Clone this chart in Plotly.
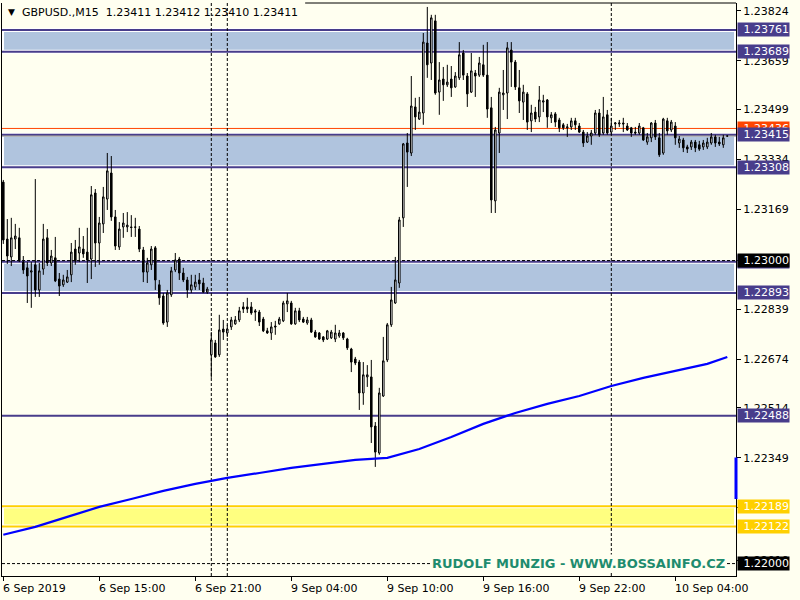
import plotly.graph_objects as go

# ---------------- data ----------------
opens = [
    1.23259, 1.23071, 1.23012, 1.23071, 1.23075, 1.22995, 1.22976, 1.22962, 1.22986, 1.22903,
    1.22972, 1.23075, 1.22992, 1.23009, 1.22939, 1.22920, 1.22929, 1.22953, 1.23038, 1.23025,
    1.23038, 1.23028, 1.23005, 1.23223, 1.23058, 1.23121, 1.23203, 1.23289, 1.23144, 1.23045,
    1.23111, 1.23111, 1.23111, 1.23111, 1.23104, 1.23035, 1.22962, 1.22986, 1.23042, 1.22920,
    1.22883, 1.22797, 1.22887, 1.22969, 1.23005, 1.22959, 1.22936, 1.22903, 1.22913, 1.22936,
    1.22926, 1.22896, 1.22689, 1.22728, 1.22689, 1.22774, 1.22761, 1.22781, 1.22791, 1.22804,
    1.22847, 1.22847, 1.22847, 1.22834, 1.22830, 1.22807, 1.22768, 1.22761, 1.22784, 1.22791,
    1.22801, 1.22857, 1.22860, 1.22791, 1.22834, 1.22807, 1.22794, 1.22804, 1.22764, 1.22761,
    1.22748, 1.22741, 1.22745, 1.22741, 1.22751, 1.22761, 1.22741, 1.22708, 1.22675, 1.22665,
    1.22563, 1.22616, 1.22616, 1.22454, 1.22365, 1.22553, 1.22672, 1.22788, 1.22860, 1.22926,
    1.23141, 1.23388, 1.23355, 1.23507, 1.23467, 1.23487, 1.23718, 1.23652, 1.23791, 1.23556,
    1.23599, 1.23580, 1.23599, 1.23573, 1.23603, 1.23685, 1.23609, 1.23556, 1.23619, 1.23612,
    1.23646, 1.23612, 1.23504, 1.23197, 1.23421, 1.23547, 1.23553, 1.23695, 1.23655, 1.23570,
    1.23523, 1.23550, 1.23461, 1.23490, 1.23474, 1.23523, 1.23530, 1.23471, 1.23484, 1.23464,
    1.23448, 1.23438, 1.23441, 1.23461, 1.23444, 1.23424, 1.23391, 1.23411, 1.23421, 1.23487,
    1.23421, 1.23481, 1.23424, 1.23451, 1.23451, 1.23454, 1.23444, 1.23438, 1.23424, 1.23421,
    1.23438, 1.23391, 1.23405, 1.23454, 1.23405, 1.23355, 1.23461, 1.23431, 1.23444, 1.23388,
    1.23398, 1.23375, 1.23375, 1.23391, 1.23382, 1.23375, 1.23375, 1.23388, 1.23408, 1.23391,
    1.23382, 1.23411,
]
highs = [
    1.23266, 1.23137, 1.23141, 1.23121, 1.23108, 1.23015, 1.22995, 1.22995, 1.23269, 1.22992,
    1.23121, 1.23104, 1.23035, 1.23078, 1.22959, 1.22953, 1.22969, 1.23058, 1.23068, 1.23108,
    1.23081, 1.23108, 1.23246, 1.23236, 1.23144, 1.23243, 1.23355, 1.23345, 1.23167, 1.23127,
    1.23157, 1.23160, 1.23150, 1.23141, 1.23114, 1.23045, 1.23009, 1.23048, 1.23048, 1.22936,
    1.22893, 1.22903, 1.22979, 1.23025, 1.23012, 1.22976, 1.22946, 1.22953, 1.22953, 1.22959,
    1.22943, 1.22913, 1.22764, 1.22738, 1.22821, 1.22804, 1.22788, 1.22814, 1.22817, 1.22847,
    1.22863, 1.22877, 1.22863, 1.22840, 1.22837, 1.22814, 1.22778, 1.22797, 1.22801, 1.22814,
    1.22867, 1.22893, 1.22867, 1.22844, 1.22844, 1.22814, 1.22814, 1.22811, 1.22771, 1.22764,
    1.22751, 1.22771, 1.22771, 1.22788, 1.22771, 1.22764, 1.22745, 1.22712, 1.22682, 1.22672,
    1.22665, 1.22655, 1.22672, 1.22467, 1.22580, 1.22748, 1.22794, 1.22913, 1.23012, 1.23144,
    1.23388, 1.23421, 1.23609, 1.23537, 1.23540, 1.23751, 1.23837, 1.23811, 1.23811, 1.23655,
    1.23639, 1.23646, 1.23642, 1.23622, 1.23721, 1.23695, 1.23619, 1.23685, 1.23629, 1.23672,
    1.23712, 1.23721, 1.23540, 1.23441, 1.23570, 1.23629, 1.23721, 1.23721, 1.23662, 1.23629,
    1.23580, 1.23556, 1.23514, 1.23507, 1.23576, 1.23547, 1.23533, 1.23490, 1.23490, 1.23471,
    1.23454, 1.23451, 1.23471, 1.23471, 1.23454, 1.23431, 1.23424, 1.23431, 1.23497, 1.23500,
    1.23540, 1.23497, 1.23471, 1.23457, 1.23464, 1.23471, 1.23454, 1.23441, 1.23441, 1.23454,
    1.23441, 1.23421, 1.23457, 1.23464, 1.23421, 1.23471, 1.23471, 1.23464, 1.23457, 1.23411,
    1.23405, 1.23382, 1.23398, 1.23398, 1.23395, 1.23398, 1.23405, 1.23421, 1.23415, 1.23408,
    1.23415, 1.23412,
]
lows = [
    1.23055, 1.22989, 1.22982, 1.23038, 1.22995, 1.22956, 1.22860, 1.22844, 1.22880, 1.22880,
    1.22953, 1.22982, 1.22982, 1.22929, 1.22883, 1.22913, 1.22926, 1.22929, 1.22986, 1.22995,
    1.23009, 1.22926, 1.22939, 1.22979, 1.22986, 1.23091, 1.23167, 1.23131, 1.23035, 1.23035,
    1.23075, 1.23094, 1.23078, 1.23078, 1.23028, 1.22929, 1.22926, 1.22969, 1.22903, 1.22854,
    1.22788, 1.22781, 1.22880, 1.22962, 1.22936, 1.22929, 1.22877, 1.22893, 1.22903, 1.22903,
    1.22893, 1.22890, 1.22613, 1.22679, 1.22682, 1.22738, 1.22748, 1.22771, 1.22788, 1.22797,
    1.22827, 1.22827, 1.22821, 1.22801, 1.22784, 1.22764, 1.22758, 1.22738, 1.22755, 1.22788,
    1.22797, 1.22830, 1.22788, 1.22788, 1.22797, 1.22794, 1.22788, 1.22761, 1.22745, 1.22738,
    1.22731, 1.22738, 1.22741, 1.22731, 1.22745, 1.22738, 1.22705, 1.22632, 1.22655, 1.22507,
    1.22524, 1.22583, 1.22398, 1.22319, 1.22359, 1.22550, 1.22665, 1.22781, 1.22857, 1.22910,
    1.23111, 1.23243, 1.23345, 1.23431, 1.23464, 1.23448, 1.23603, 1.23596, 1.23547, 1.23481,
    1.23527, 1.23573, 1.23540, 1.23570, 1.23596, 1.23596, 1.23507, 1.23553, 1.23540, 1.23606,
    1.23606, 1.23471, 1.23157, 1.23157, 1.23355, 1.23497, 1.23467, 1.23573, 1.23563, 1.23487,
    1.23464, 1.23431, 1.23424, 1.23457, 1.23457, 1.23490, 1.23438, 1.23454, 1.23441, 1.23424,
    1.23431, 1.23408, 1.23431, 1.23431, 1.23421, 1.23375, 1.23388, 1.23382, 1.23415, 1.23408,
    1.23415, 1.23415, 1.23415, 1.23431, 1.23441, 1.23424, 1.23428, 1.23408, 1.23415, 1.23415,
    1.23395, 1.23382, 1.23391, 1.23398, 1.23342, 1.23349, 1.23415, 1.23424, 1.23382, 1.23372,
    1.23358, 1.23355, 1.23365, 1.23358, 1.23362, 1.23365, 1.23368, 1.23382, 1.23375, 1.23378,
    1.23372, 1.23410,
]
closes = [
    1.23068, 1.23015, 1.23075, 1.23081, 1.22999, 1.22969, 1.22949, 1.22966, 1.22903, 1.22966,
    1.23071, 1.22992, 1.23015, 1.22933, 1.22916, 1.22936, 1.22946, 1.23028, 1.22999, 1.23045,
    1.23022, 1.23002, 1.23217, 1.23058, 1.23124, 1.23210, 1.23296, 1.23144, 1.23048, 1.23104,
    1.23124, 1.23117, 1.23109, 1.23110, 1.23038, 1.22962, 1.22992, 1.23038, 1.22936, 1.22877,
    1.22794, 1.22893, 1.22966, 1.23002, 1.22959, 1.22936, 1.22903, 1.22920, 1.22929, 1.22923,
    1.22896, 1.22906, 1.22738, 1.22682, 1.22771, 1.22764, 1.22774, 1.22804, 1.22804, 1.22834,
    1.22840, 1.22840, 1.22827, 1.22830, 1.22797, 1.22768, 1.22761, 1.22781, 1.22781, 1.22807,
    1.22860, 1.22867, 1.22791, 1.22834, 1.22804, 1.22797, 1.22804, 1.22764, 1.22748, 1.22741,
    1.22738, 1.22768, 1.22764, 1.22761, 1.22761, 1.22745, 1.22712, 1.22665, 1.22662, 1.22563,
    1.22623, 1.22623, 1.22451, 1.22368, 1.22563, 1.22669, 1.22788, 1.22870, 1.22936, 1.23134,
    1.23385, 1.23358, 1.23510, 1.23474, 1.23490, 1.23721, 1.23646, 1.23801, 1.23553, 1.23596,
    1.23580, 1.23589, 1.23570, 1.23609, 1.23679, 1.23612, 1.23550, 1.23626, 1.23609, 1.23652,
    1.23612, 1.23500, 1.23200, 1.23431, 1.23556, 1.23553, 1.23702, 1.23655, 1.23573, 1.23527,
    1.23556, 1.23457, 1.23487, 1.23467, 1.23530, 1.23527, 1.23474, 1.23481, 1.23457, 1.23438,
    1.23438, 1.23441, 1.23461, 1.23448, 1.23424, 1.23388, 1.23411, 1.23421, 1.23487, 1.23415,
    1.23474, 1.23421, 1.23444, 1.23454, 1.23454, 1.23451, 1.23431, 1.23421, 1.23421, 1.23444,
    1.23398, 1.23408, 1.23454, 1.23408, 1.23349, 1.23467, 1.23428, 1.23457, 1.23405, 1.23401,
    1.23372, 1.23368, 1.23391, 1.23372, 1.23368, 1.23388, 1.23391, 1.23408, 1.23388, 1.23385,
    1.23405, 1.23411,
]

ma_bars = [0, 8, 16, 24, 32, 40, 48, 56, 64, 72, 80, 88, 96, 104, 112, 120,
           128, 136, 144, 152, 160, 168, 176, 181]
ma_values = [1.22095, 1.22121, 1.22154, 1.22187, 1.22213, 1.22240, 1.22263, 1.22283,
             1.22299, 1.22316, 1.22329, 1.22342, 1.22349, 1.22378, 1.22418, 1.22461,
             1.22497, 1.22527, 1.22553, 1.22586, 1.22613, 1.22636, 1.22659, 1.22682]

xtick_bars = [0, 24, 48, 72, 96, 120, 144, 168]
xtick_labels = ["6 Sep 2019", "6 Sep 15:00", "6 Sep 21:00", "9 Sep 04:00",
                "9 Sep 10:00", "9 Sep 16:00", "9 Sep 22:00", "10 Sep 04:00"]
ytick_values = [1.23824, 1.23659, 1.23499, 1.23334, 1.23169, 1.23000,
                1.22839, 1.22674, 1.22514, 1.22349, 1.22184, 1.22010]

blue_zones = [(1.23761, 1.23689), (1.23415, 1.23308), (1.22996, 1.22893)]
yellow_zone = (1.22189, 1.22122)
support_level = 1.22488
alert_level = 1.23436
bid_price = 1.23411
round_levels = [1.23000, 1.22000]
separator_bars = [52, 56, 152]
axis_marker = (1.22213, 1.22350)

symbol_title = "GBPUSD.,M15"
quote_title = "1.23411 1.23412 1.23410 1.23411"
watermark = "RUDOLF MUNZIG - WWW.BOSSAINFO.CZ"

# ---------------- style ----------------
BG = "#FFFFF0"
SLATE = "#483D8B"
STEEL = "#B0C4DE"
GOLD = "#FFD000"
LIGHTYELLOW = "#FFFF80"
FONT = "DejaVu Sans"

bars = list(range(len(opens)))

fig = go.Figure()
fig.add_trace(go.Candlestick(
    x=bars, open=opens, high=highs, low=lows, close=closes,
    increasing=dict(line=dict(color="black", width=1), fillcolor="white"),
    decreasing=dict(line=dict(color="black", width=1), fillcolor="black"),
    whiskerwidth=0, hoverinfo="skip",
))
fig.add_trace(go.Scatter(
    x=ma_bars, y=ma_values, mode="lines",
    line=dict(color="#0000FF", width=2.2), hoverinfo="skip",
))

shapes = []
for hi, lo in blue_zones:
    shapes.append(dict(type="rect", xref="paper", x0=0, x1=1, yref="y", y0=lo, y1=hi,
                       fillcolor=STEEL, line=dict(color="white", width=4), layer="below"))
shapes.append(dict(type="rect", xref="paper", x0=0, x1=1, yref="y",
                   y0=yellow_zone[1], y1=yellow_zone[0],
                   fillcolor=LIGHTYELLOW, line=dict(color="white", width=4), layer="below"))
for hi, lo in blue_zones:
    for v in (hi, lo):
        shapes.append(dict(type="line", xref="paper", x0=0, x1=1, yref="y", y0=v, y1=v,
                           line=dict(color=SLATE, width=2), layer="below"))
for v in yellow_zone:
    shapes.append(dict(type="line", xref="paper", x0=0, x1=1, yref="y", y0=v, y1=v,
                       line=dict(color=GOLD, width=2), layer="below"))
shapes.append(dict(type="line", xref="paper", x0=0, x1=1, yref="y",
                   y0=support_level, y1=support_level,
                   line=dict(color=SLATE, width=2), layer="below"))
shapes.append(dict(type="line", xref="paper", x0=0, x1=1, yref="y",
                   y0=alert_level, y1=alert_level,
                   line=dict(color="#FF4500", width=1), layer="below"))
shapes.append(dict(type="line", xref="paper", x0=0, x1=1, yref="y",
                   y0=bid_price, y1=bid_price,
                   line=dict(color="#808080", width=1), layer="below"))
for v in round_levels:
    shapes.append(dict(type="line", xref="paper", x0=0, x1=1, yref="y", y0=v, y1=v,
                       line=dict(color="black", width=1, dash="3px,2px"), layer="below"))
for b in separator_bars:
    shapes.append(dict(type="line", xref="x", x0=b, x1=b, yref="paper", y0=0, y1=1,
                       line=dict(color="black", width=1, dash="3px,2px"), layer="below"))
shapes.append(dict(type="line", xref="paper", x0=1.0, x1=1.0, yref="y",
                   y0=axis_marker[0], y1=axis_marker[1],
                   line=dict(color="#0000FF", width=3), layer="above"))
shapes.append(dict(type="line", xref="paper", x0=0.413, x1=1, yref="paper", y0=1, y1=1,
                   line=dict(color="black", width=1), layer="above"))

annotations = []
for b, lab in zip(xtick_bars, xtick_labels):
    annotations.append(dict(x=b, xref="x", y=0, yref="paper", yanchor="top", xanchor="left",
                            yshift=-4, xshift=-2, text=lab, showarrow=False,
                            font=dict(family=FONT, size=11, color="black")))

def price_label(v, bg):
    return dict(x=1, xref="paper", xanchor="left", xshift=1, y=v, yref="y", yanchor="middle",
                text=f"{v:.5f}", showarrow=False, bgcolor=bg, borderpad=0,
                width=51, align="right", font=dict(family=FONT, size=11, color="white"))

annotations.append(price_label(alert_level, "#FF4500"))
for hi, lo in blue_zones:
    annotations.append(price_label(hi, SLATE))
    annotations.append(price_label(lo, SLATE))
annotations.append(price_label(support_level, SLATE))
annotations.append(price_label(yellow_zone[0], GOLD))
annotations.append(price_label(yellow_zone[1], GOLD))
for v in round_levels:
    annotations.append(price_label(v, "black"))

annotations.append(dict(x=0, xref="paper", xanchor="left", xshift=4, y=1, yref="paper",
                        yanchor="middle", yshift=-9, text="▼", showarrow=False,
                        font=dict(family=FONT, size=9, color="black")))
annotations.append(dict(x=0, xref="paper", xanchor="left", xshift=18, y=1, yref="paper",
                        yanchor="middle", yshift=-9,
                        text=f"{symbol_title}  {quote_title}", showarrow=False,
                        font=dict(family=FONT, size=11, color="black")))
annotations.append(dict(x=0.786, xref="paper", xanchor="center", y=round_levels[1], yref="y",
                        yanchor="middle", text=f"<b>{watermark}</b>", showarrow=False,
                        bgcolor=BG, borderpad=1,
                        font=dict(family=FONT, size=13, color="#1E8C6E")))

fig.update_layout(
    width=800, height=600,
    margin=dict(l=2, r=64, t=3, b=24, autoexpand=False),
    paper_bgcolor=BG, plot_bgcolor=BG,
    showlegend=False, hovermode=False, boxgap=0.45,
    shapes=shapes, annotations=annotations,
    xaxis=dict(range=[-0.325, 183.175], showline=True, linecolor="black", linewidth=1,
               ticks="outside", ticklen=4, tickcolor="black", tickvals=xtick_bars,
               showticklabels=False, showgrid=False, zeroline=False, automargin=False,
               rangeslider=dict(visible=False), fixedrange=True),
    yaxis=dict(side="right", range=[1.21959, 1.23850], showline=True, mirror=True,
               linecolor="black", linewidth=1, ticks="outside", ticklen=4, tickcolor="black",
               tickvals=ytick_values, ticktext=[f"{v:.5f}" for v in ytick_values],
               tickfont=dict(family=FONT, size=11, color="black"), automargin=False,
               showgrid=False, zeroline=False, fixedrange=True),
)

fig.write_html(
    "out.html",
    config={"displayModeBar": False, "staticPlot": True},
    post_script="document.body.style.margin='0';document.body.style.padding='0';"
                "document.body.style.background='" + BG + "';",
)
